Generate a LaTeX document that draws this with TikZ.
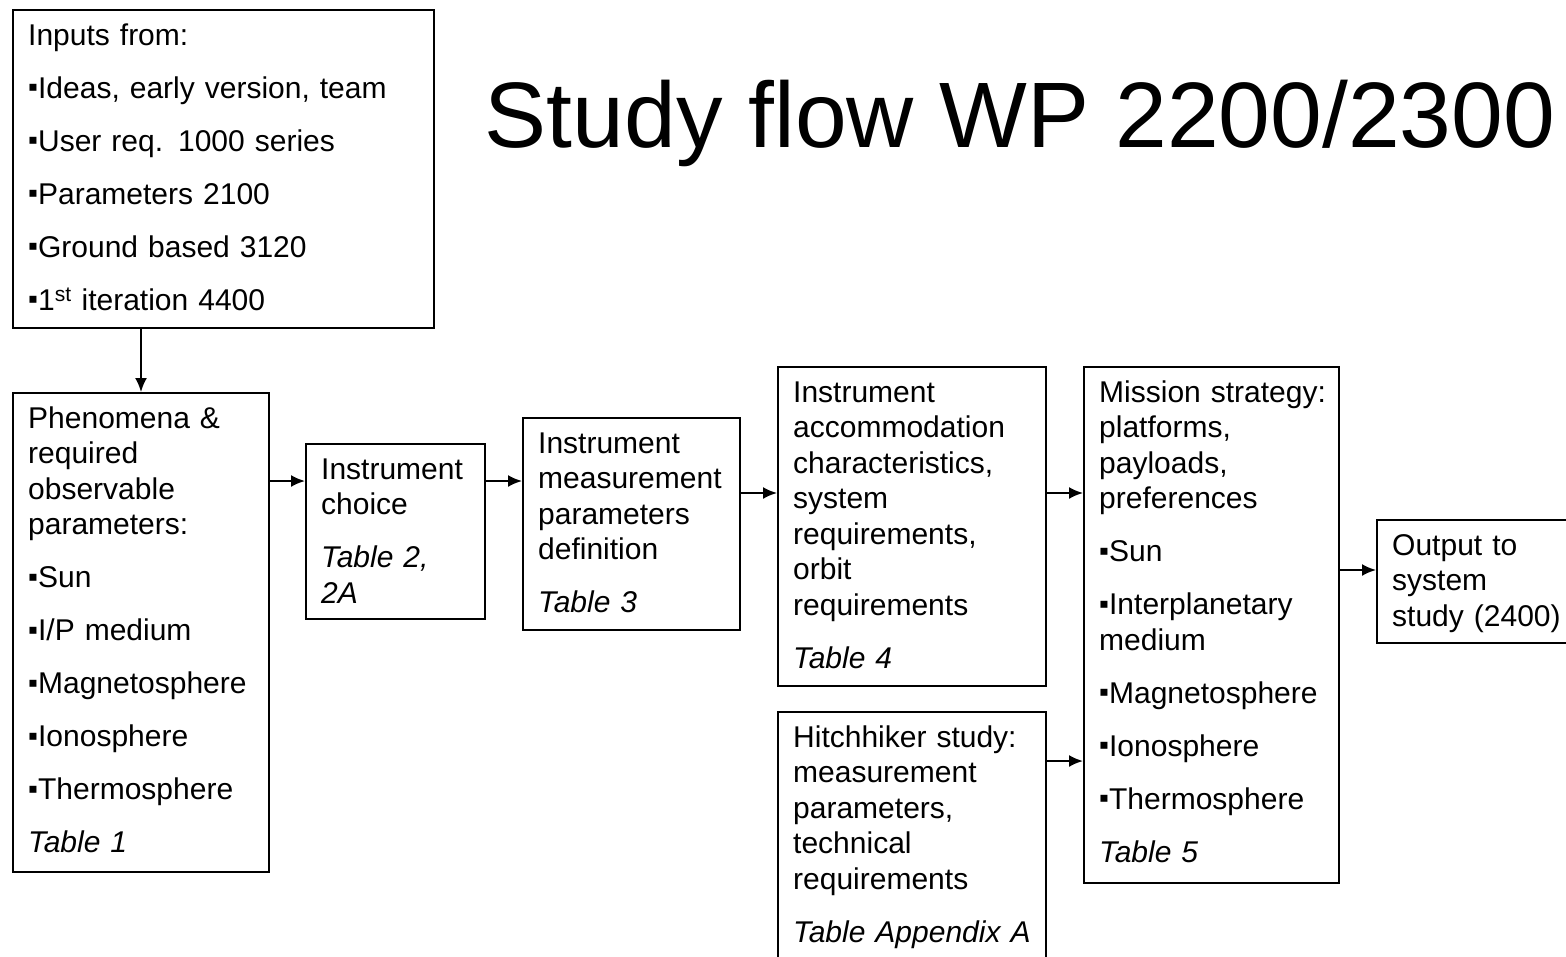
\documentclass[tikz,border=0pt]{standalone}
\usepackage{fontspec}
\setmainfont{Liberation Sans}
\usetikzlibrary{arrows.meta}
\tikzstyle{block} = [rectangle, draw=black, line width=2pt, anchor=north west, inner sep=0pt]
\tikzstyle{blocktext} = [anchor=north west, align=left, text width=400pt, inner xsep=16pt, inner ysep=11pt, font=\fontsize{30}{35.5}\selectfont, execute at begin node=\strut]
\tikzstyle{arrow} = [line width=2pt, -{Latex[length=14pt,width=12pt]}]
\newcommand{\blt}{\raisebox{1.5pt}{\fontsize{28}{28}\selectfont ▪}}
\newcommand{\gap}{\\[17.5pt]}
\begin{document}
\begin{tikzpicture}[x=1pt, y=-1pt]
\useasboundingbox (0,0) rectangle (1566,956);
\fill[white] (0,0) rectangle (1566,956);
\clip (0,0) rectangle (1566,956);

\node (title) [font=\fontsize{93}{100}\selectfont, anchor=base] at (1020,147) {Study flow WP 2200/2300};

% boxes
\node (inputs) [block, minimum width=421, minimum height=318] at (12,9) {};
\node (phen) [block, minimum width=256, minimum height=479] at (12,392) {};
\node (choice) [block, minimum width=179, minimum height=175] at (305,443) {};
\node (meas) [block, minimum width=217, minimum height=212] at (522,417) {};
\node (accom) [block, minimum width=268, minimum height=319] at (777,366) {};
\node (hitch) [block, minimum width=268, minimum height=290] at (777,711) {};
\node (mission) [block, minimum width=255, minimum height=516] at (1083,366) {};
\node (output) [block, minimum width=240, minimum height=123] at (1376,519) {};

% texts
\node (inputs_txt) [blocktext] at (inputs.north west) {Inputs from:\gap \blt Ideas, early version, team\gap \blt User req. 1000 series\gap \blt Parameters 2100\gap \blt Ground based 3120\gap \blt 1\textsuperscript{st} iteration 4400};
\node (phen_txt) [blocktext] at (phen.north west) {Phenomena \&\\required\\observable\\parameters:\gap \blt Sun\gap \blt I/P medium\gap \blt Magnetosphere\gap \blt Ionosphere\gap \blt Thermosphere\gap \textit{Table 1}};
\node (choice_txt) [blocktext] at (choice.north west) {Instrument\\choice\gap \textit{Table 2,}\\\textit{2A}};
\node (meas_txt) [blocktext] at (meas.north west) {Instrument\\measurement\\parameters\\definition\gap \textit{Table 3}};
\node (accom_txt) [blocktext] at (accom.north west) {Instrument\\accommodation\\characteristics,\\system\\requirements,\\orbit\\requirements\gap \textit{Table 4}};
\node (hitch_txt) [blocktext] at (hitch.north west) {Hitchhiker study:\\measurement\\parameters,\\technical\\requirements\gap \textit{Table Appendix A}};
\node (mission_txt) [blocktext] at (mission.north west) {Mission strategy:\\platforms,\\payloads,\\preferences\gap \blt Sun\gap \blt Interplanetary\\medium\gap \blt Magnetosphere\gap \blt Ionosphere\gap \blt Thermosphere\gap \textit{Table 5}};
\node (output_txt) [blocktext] at (output.north west) {Output to\\system\\study (2400)};

% arrow rows
\coordinate (row1) at (0,481);
\coordinate (row2) at (0,493);
\coordinate (row3) at (0,761);
\coordinate (row4) at (0,570);

\draw[arrow] (inputs.south -| phen.north) -- (phen.north);
\draw[arrow] (phen.east |- row1) -- (choice.west |- row1);
\draw[arrow] (choice.east |- row1) -- (meas.west |- row1);
\draw[arrow] (meas.east |- row2) -- (accom.west |- row2);
\draw[arrow] (accom.east |- row2) -- (mission.west |- row2);
\draw[arrow] (hitch.east |- row3) -- (mission.west |- row3);
\draw[arrow] (mission.east |- row4) -- (output.west |- row4);
\end{tikzpicture}
\end{document}
